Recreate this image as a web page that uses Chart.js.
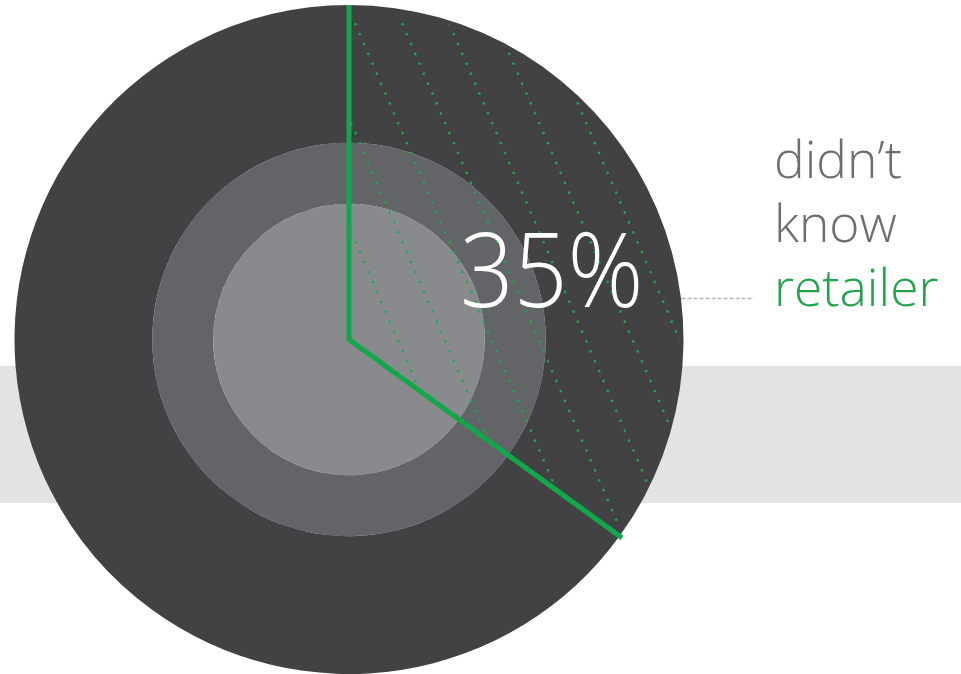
<!DOCTYPE html>
<html>
<head>
<meta charset="utf-8">
<script src="https://cdn.jsdelivr.net/npm/chart.js@4"></script>
<style>
  body { margin: 0; background: #fff; }
  #wrap { position: relative; width: 961px; height: 674px; overflow: hidden; }
  #pct {
    position: absolute; left: 460px; top: 197px;
    font-family: "Open Sans", sans-serif; font-weight: 300;
    font-size: 104px; line-height: 140px; color: #fff;
    white-space: nowrap;
    transform: scaleX(0.905); transform-origin: left top;
  }
  #label {
    position: absolute; left: 774px; top: 126px;
    font-family: "Open Sans", sans-serif; font-weight: 300;
    font-size: 51.5px; line-height: 64px; color: #6d6e71;
  }
  #label .hl { color: #22a34c; }
</style>
</head>
<body>
<div id="wrap">
  <canvas id="ringChart" width="961" height="674"></canvas>
  <div id="pct">35%</div>
  <div id="label">didn’t<br>know<br><span class="hl">retailer</span></div>
</div>
<script>
  // 数値
  const categories = ["didn't know retailer", "other"];
  const shareValues = [35, 65];
  const ringNames = ["outer", "middle", "inner"];
  const ringColors = ['#424244', '#636467', '#898a8e'];
  const ringWeights = [138, 61, 136];

  const green = '#12a84a';

  // 背景の帯と緑の線・斜線
  const decoPlugin = {
    id: 'deco',
    beforeDraw(chart) {
      const c = chart.ctx;
      c.save();
      c.fillStyle = '#e2e3e5';
      c.fillRect(0, 366, chart.width, 137);
      c.restore();
    },
    afterDatasetsDraw(chart) {
      const c = chart.ctx;
      const arc = chart.getDatasetMeta(0).data[0];
      const { x, y, startAngle, endAngle, outerRadius } = arc.getProps(['x', 'y', 'startAngle', 'endAngle', 'outerRadius'], true);

      // 斜めの点線
      c.save();
      c.beginPath();
      c.moveTo(x, y);
      c.arc(x, y, outerRadius - 4, startAngle, endAngle);
      c.closePath();
      c.clip();
      c.strokeStyle = '#1ca84c';
      c.lineWidth = 2.4;
      c.setLineDash([2.4, 8.4]);
      const dx = 0.396, dy = 0.918;
      const y0 = y - outerRadius + 18;
      for (let k = -8; k <= 8; k++) {
        const x0 = x + 6 + k * 47;
        c.beginPath();
        c.moveTo(x0, y0);
        c.lineTo(x0 + dx * 800, y0 + dy * 800);
        c.stroke();
      }
      c.restore();

      // 境界の緑線
      c.save();
      c.strokeStyle = green;
      c.lineWidth = 5;
      c.lineJoin = 'miter';
      c.beginPath();
      c.moveTo(x + Math.cos(startAngle) * outerRadius, y + Math.sin(startAngle) * outerRadius);
      c.lineTo(x, y);
      c.lineTo(x + Math.cos(endAngle) * (outerRadius + 3), y + Math.sin(endAngle) * (outerRadius + 3));
      c.stroke();

      // ラベルへの破線
      c.strokeStyle = '#b4b5b7';
      c.lineWidth = 1.5;
      c.setLineDash([4, 2]);
      c.beginPath();
      c.moveTo(x + outerRadius - 2, 298.5);
      c.lineTo(754, 298.5);
      c.stroke();
      c.restore();
    }
  };

  const ctx = document.getElementById('ringChart').getContext('2d');
  const ringChart = new Chart(ctx, {
    type: 'pie',
    data: {
      labels: categories,
      datasets: ringNames.map((name, i) => ({
        label: name,
        data: shareValues,
        backgroundColor: ringColors[i],
        borderWidth: 0,
        hoverOffset: 0,
        weight: ringWeights[i]
      }))
    },
    options: {
      responsive: false,
      animation: false,
      events: [],
      layout: { padding: { left: 14, right: 277, top: 5, bottom: 0 } },
      plugins: {
        legend: { display: false },
        tooltip: { enabled: false }
      }
    },
    plugins: [decoPlugin]
  });
</script>
</body>
</html>
